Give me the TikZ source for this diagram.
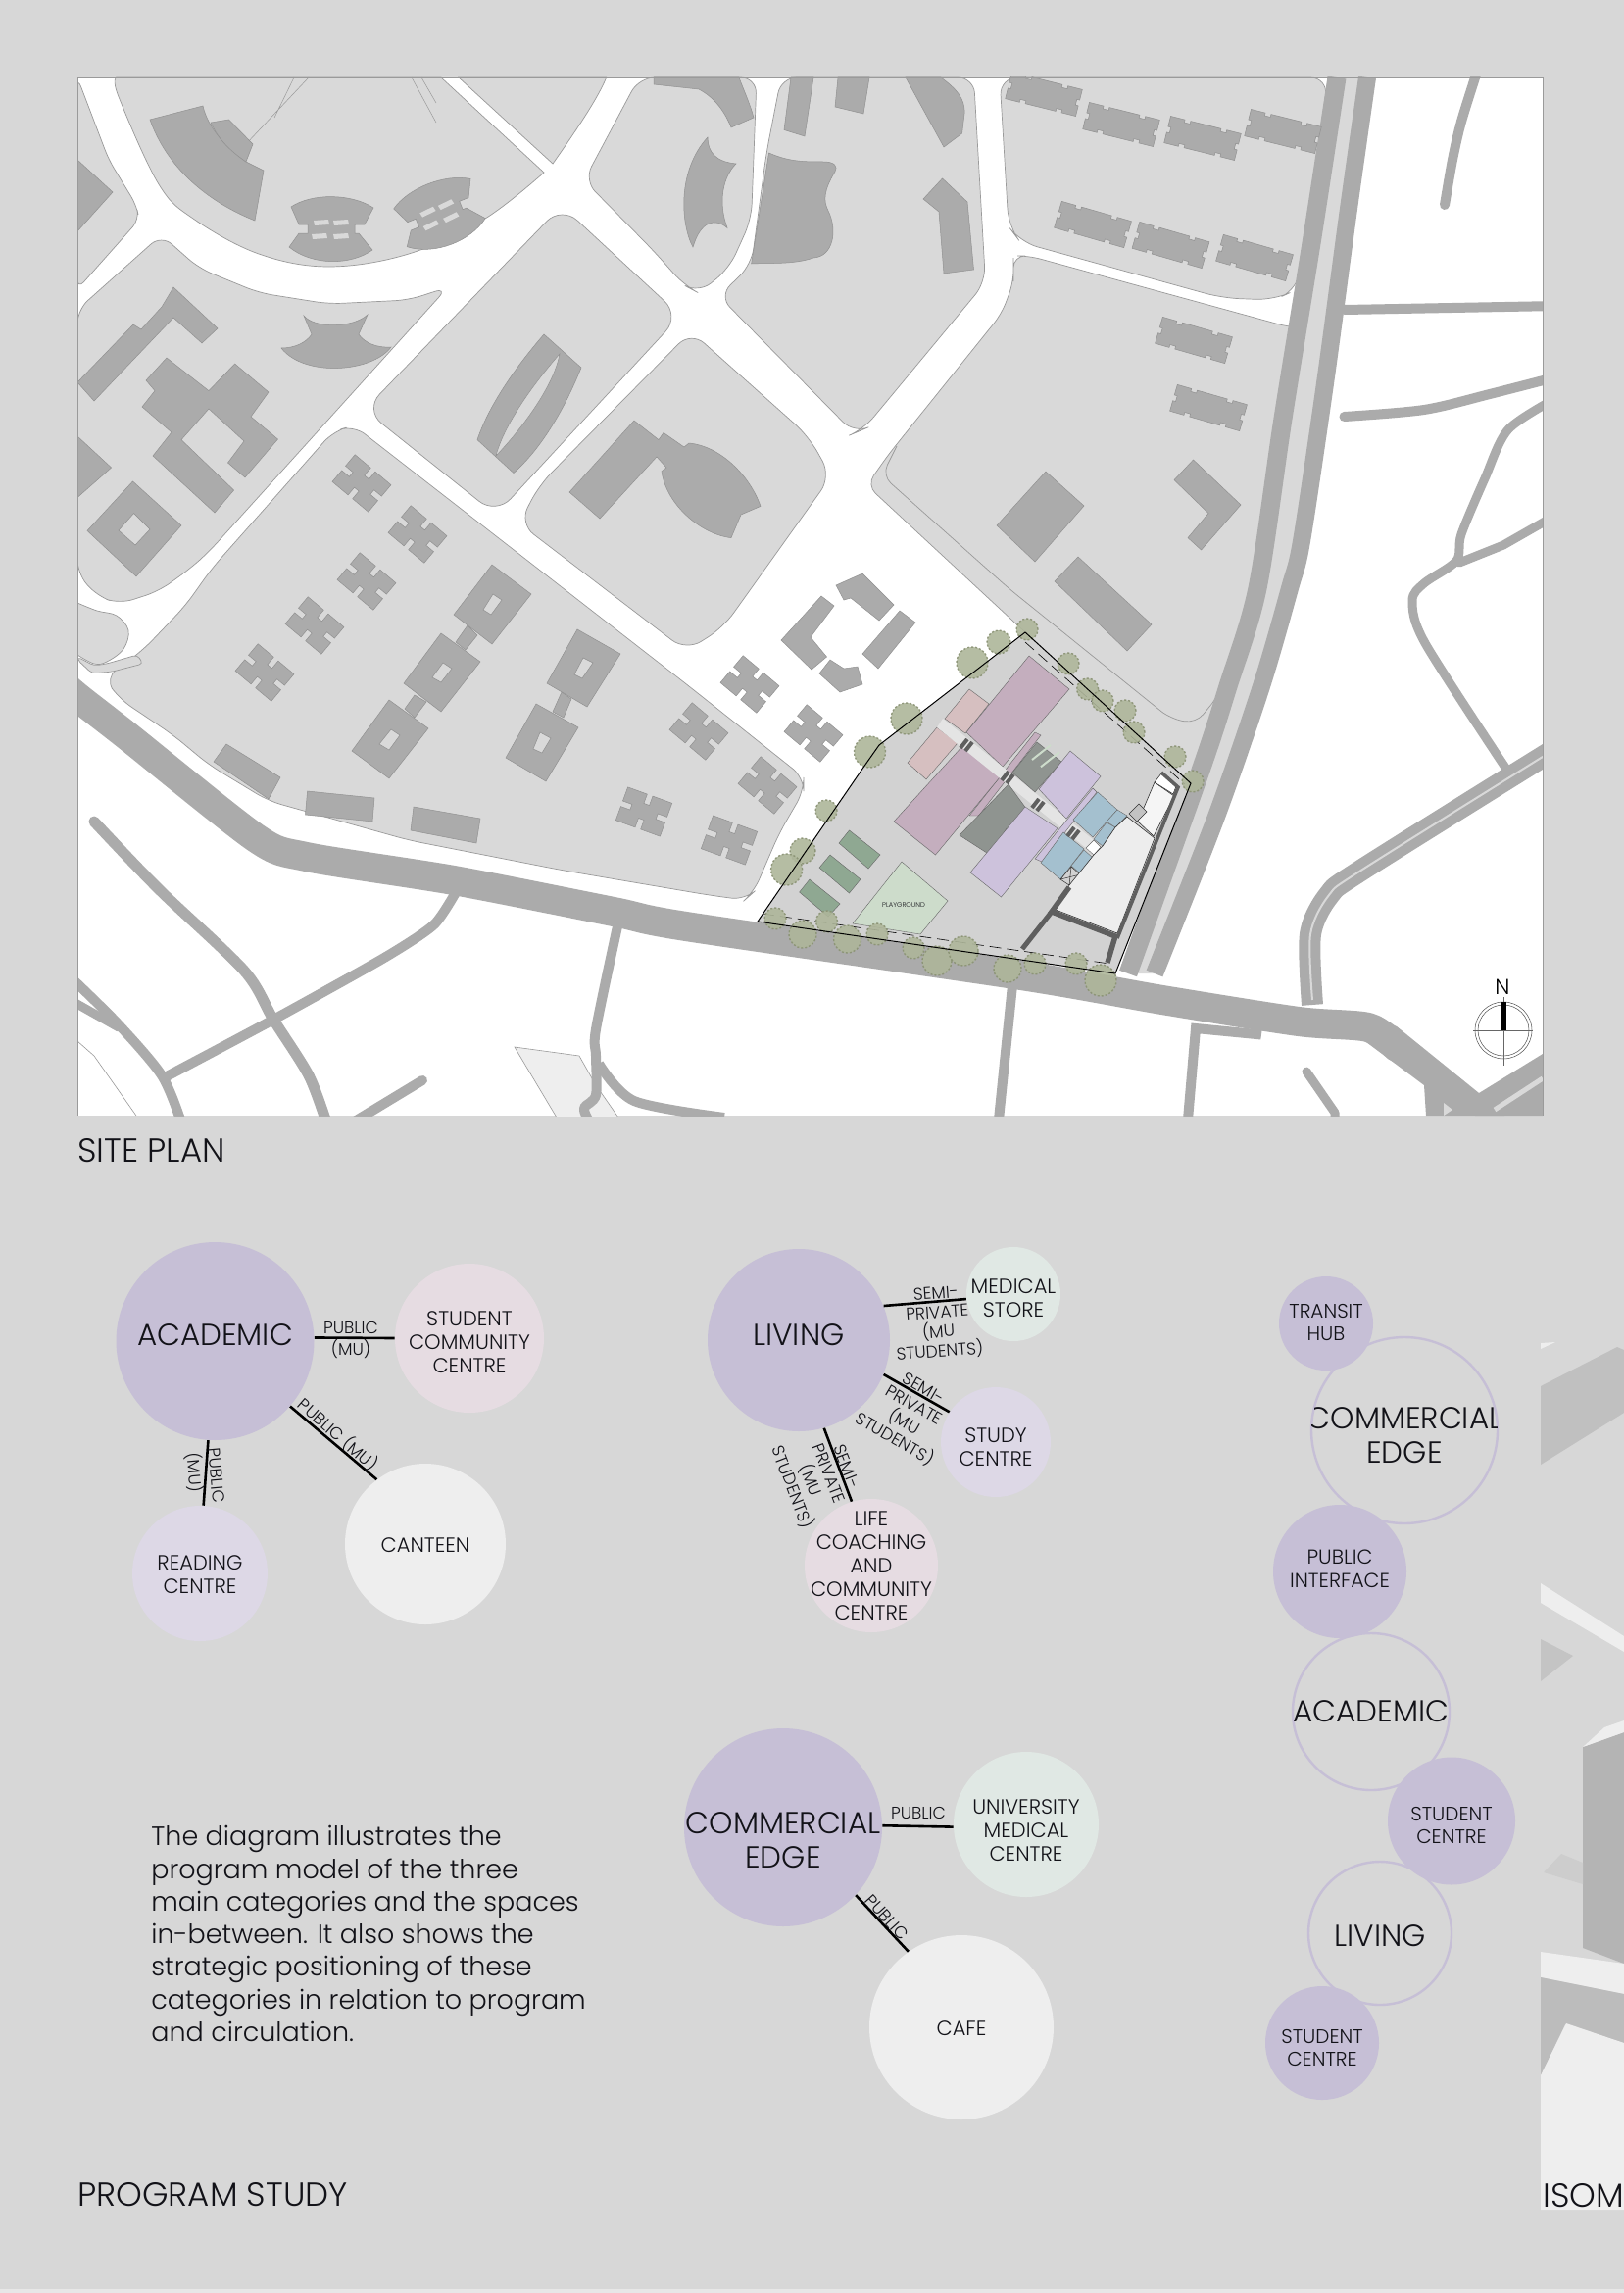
\documentclass[tikz,border=0pt]{standalone}
\usepackage{fontspec}
\setmainfont{Poppins Light}
\definecolor{pagebg}{HTML}{D7D7D7}
\definecolor{blk}{HTML}{D9D9D9}
\definecolor{bldc}{HTML}{ABABAB}
\definecolor{edgec}{HTML}{9A9A9A}
\definecolor{lav}{HTML}{C6BFD6}
\definecolor{lavl}{HTML}{DDD8E6}
\definecolor{pinkl}{HTML}{E6DCE2}
\definecolor{greenl}{HTML}{E0E8E4}
\definecolor{greyl}{HTML}{EEEEEE}
\definecolor{inkc}{HTML}{121218}
\definecolor{treec}{HTML}{AEB69A}
\definecolor{treed}{HTML}{8A9274}
\tikzset{
  blockp/.style={fill=blk,draw=edgec,line width=0.35pt},
  bld/.style={fill=bldc,draw=bldc!85!black,line width=0.25pt},
  road/.style={draw=bldc,line cap=round,line join=round},
  bub/.style={circle,inner sep=0pt,draw=none},
  ring/.style={circle,inner sep=0pt,draw=lav,line width=1.2pt},
  lab/.style={align=center,text=inkc,inner sep=0pt},
  link/.style={draw=black,line width=1.3pt},
  sz/.style={font=\fontsize{#1}{\dimexpr#1pt*115/100\relax}\selectfont}
}
\newcommand{\xbk}[3]{\filldraw[bld,shift={(#1,#2)},rotate=#3] (-24,-18)--(-3,-18)--(-3,-8)--(3,-8)--(3,-18)--(24,-18)--(24,-3)--(14,-3)--(14,3)--(24,3)--(24,18)--(3,18)--(3,8)--(-3,8)--(-3,18)--(-24,18)--(-24,3)--(-14,3)--(-14,-3)--(-24,-3)--cycle;}
\newcommand{\apt}[3]{\filldraw[bld,shift={(#1,#2)},rotate=#3] (-37,-14)--(-22,-14)--(-22,-11)--(-16,-11)--(-16,-14)--(16,-14)--(16,-11)--(22,-11)--(22,-14)--(37,-14)--(37,-3)--(34,-3)--(34,3)--(37,3)--(37,14)--(22,14)--(22,11)--(16,11)--(16,14)--(-16,14)--(-16,11)--(-22,11)--(-22,14)--(-37,14)--(-37,3)--(-34,3)--(-34,-3)--(-37,-3)--cycle;}
\newcommand{\hourg}[3]{\begin{scope}[shift={(#1,#2)},rotate=#3]
\filldraw[bld] (-41,-22) .. controls (-20,-36) and (20,-36) .. (43,-21) -- (34,-4) -- (24,-4) -- (24,5) -- (28,5) -- (42,22) .. controls (20,38) and (-20,38) .. (-43,19) -- (-33,5) -- (-24,5) -- (-24,-4) -- (-33,-4) -- cycle;
\foreach \hx/\hy in {-10/-6,10/-6,-12/8,10/8}{\fill[blk] (\hx-8,\hy-2)--(\hx+7,\hy-3)--(\hx+8,\hy+2)--(\hx-7,\hy+3)--cycle;}
\end{scope}}
\begin{document}
\begin{tikzpicture}[x=0.5pt,y=-0.5pt]
\useasboundingbox (0,0) rectangle (1657,2339);
\fill[pagebg] (0,0) rectangle (1657,2339);
\fill[pagebg!60!white] (0,2335) rectangle (1657,2339);
% ---------- SITE PLAN MAP
\begin{scope}
\clip (79,79) rectangle (1574,1138);
\fill[white] (79,79) rectangle (1574,1138);
% blocks
\filldraw[blockp] plot[smooth,tension=.6] coordinates {(118.7,79)(121,98.6)(162,188)(198,223.6)(264,259)(335.5,272)(417,259)(494,223.6)(555,176)} -- (450,79) -- cycle;
\filldraw[blockp] (468,79) -- (564,167) .. controls (590,130) and (610,100) .. (618.7,79) -- cycle;
\filldraw[blockp,rounded corners=5pt] (79,79) -- (111,163) -- (139,209) -- (142,224) -- (79,295) -- cycle;
\filldraw[blockp,rounded corners=7pt] (164.6,239.6) -- (79,316) -- (79,585) -- (99,608) -- (122,616) -- (162,603) -- (194,580) -- (213,563) -- (457,293) -- (417,306) -- (335.5,310) -- (264,298.6) -- (203,273.6) -- cycle;
\filldraw[blockp,rounded corners=11pt] (573,210) -- (694,322) -- (506,525) -- (372,418) -- cycle;
\filldraw[blockp,rounded corners=9pt] (705,338) -- (825,445) -- (848,486) -- (738,640) -- (700,664) -- (530,534) -- (550,495) -- cycle;
\filldraw[blockp,rounded corners=7pt] (361,434) -- (340,440) -- (216,580) -- (189,618) -- (146,663) -- (107,692) -- (122,713) -- (177,750) -- (213,780) -- (274,817) -- (417,857) -- (570,887) -- (723,913) -- (760,918) -- (769,910) -- (795,850) -- (820,807) -- (820,793) -- (703,700) -- cycle;
\filldraw[blockp] plot[smooth,tension=.6] coordinates {(79,615)(99,623)(119,628)(131,643)(126,662)(109,675)(96,677)(79,668)} -- cycle;
\filldraw[blockp,rounded corners=2pt] (79,673) -- (94,687) -- (115,685) -- (146,677) -- (140,668) -- (109,677) -- (96,679) -- (79,670) -- cycle;
\filldraw[blockp,rounded corners=8pt] (652,79) -- (596,184) -- (667,256) -- (698,291) -- (713,299) -- (744,273.6) -- (766.6,223.6) -- (772,79) -- cycle;
\filldraw[blockp,rounded corners=8pt] (797,79) -- (782,156) -- (766.6,270) -- (733.5,302) -- (871.5,442) -- (881,438) -- (1005.5,288) -- (993.5,79) -- cycle;
\filldraw[blockp,rounded corners=9pt] (1020,79) -- (1029,231) -- (1041,247) -- (1247,304) -- (1300,306) -- (1324,295) -- (1355,79) -- cycle;
\filldraw[blockp,rounded corners=6pt] (1034,275) -- (1034,261) -- (1050,261) -- (1316.5,334) -- (1340,334) -- (1282,600) -- (1215,800) -- (1046,645) -- (884.4,495) -- (907,463) -- (1022,320) -- (1034,288) -- cycle;
\draw[edgec,line width=.35pt,rounded corners=6pt] (915,455) -- (900,485) -- (1029,600) -- (1194,733) -- (1220,738) -- (1243,710) -- (1261,657);
% main double road
\fill[blk] plot[smooth,tension=.5] coordinates {(1364,79)(1338,248)(1309,427)(1283,600)(1253,700)(1226,783)(1151,993)} -- plot[smooth,tension=.5] coordinates {(1178,993)(1241,833)(1287,700)(1316,600)(1328,552)(1352,391)(1376,213)(1395,79)} -- cycle;
\draw[road,line width=9.5pt,line cap=butt] plot[smooth,tension=.5] coordinates {(1364,79)(1338,248)(1309,427)(1283,600)(1253,700)(1226,783)(1151,993)};
\draw[road,line width=9pt,line cap=butt] plot[smooth,tension=.5] coordinates {(1395,79)(1376,213)(1352,391)(1328,552)(1316,600)(1287,700)(1241,833)(1178,993)};
% main road
\draw[road,line width=15pt] plot[smooth,tension=.45] coordinates {(55,690)(79,711)(129,750)(261.5,855)(312.5,874)(463,898)(626,930)(700,945)(1042,995)(1186,1020)(1325,1042)(1396,1048)(1425,1068)};
\fill[bldc] (1390,1033) -- (1425,1047) -- (1509,1115) -- (1535,1138) -- (1455,1138) -- (1453,1107) -- (1394,1063) -- cycle;
\fill[blk] (1473,1125) -- (1482,1132) -- (1473,1138) -- cycle;
% side roads
\draw[road,line width=5pt] plot[smooth,tension=.5] coordinates {(1508,70)(1491,124)(1482,163)(1474,209)};
\draw[road,line width=5pt] (1372,316) -- (1590,312);
\draw[road,line width=5pt] plot[smooth,tension=.5] coordinates {(1371.5,425)(1453,418)(1520,402)(1590,384)};
\draw[road,line width=4.5pt] plot[smooth,tension=.5] coordinates {(1590,405)(1539,438)(1515,488)(1491,545)(1486,572)(1453,595)(1441,613)(1454,656)(1536,783)};
\draw[road,line width=4.5pt] (1590,524) -- (1534,556) -- (1489,574);
\draw[road,line width=11pt,line cap=butt] plot[smooth,tension=.5] coordinates {(1590,762)(1390,887)(1356,913)(1337,953)(1339,1025)};
\draw[blk,line width=1pt] plot[smooth,tension=.5] coordinates {(1590,762)(1390,887)(1356,913)(1337,953)(1339,1020)};
\fill[bldc] (1509,1115) -- (1574,1075) -- (1574,1138) -- (1505,1138) -- cycle;
\draw[blk,line width=2.5pt] (1525,1132) -- (1574,1100);
\draw[road,line width=5pt,line cap=butt] (1033,1005) -- (1019,1142);
\draw[road,line width=5pt,line join=miter] (1212,1142) -- (1220,1049) -- (1282,1055) -- (1284,1040);
\draw[road,line width=4.5pt] (1333,1093) -- (1362,1135) -- (1362,1145);
\draw[road,line width=5.5pt] plot[smooth,tension=.5] coordinates {(96,838)(162,907)(249,990)(279,1040)(315,1097)(333,1145)};
\draw[road,line width=5pt,line cap=butt] plot[smooth,tension=.4] coordinates {(468,905)(443,943)(392,977)(279,1040)(170,1098)};
\draw[road,line width=5pt] plot[smooth,tension=.5] coordinates {(70,995)(119,1043)(165,1097)(185,1145)};
\draw[road,line width=4.5pt] (75,1022) -- (121,1048);
\draw[road,line width=5pt] (431,1102) -- (360,1145);
\filldraw[fill=greyl,draw=edgec,line width=.3pt] (525,1068) -- (591,1077) -- (608,1107) -- (631,1140) -- (568,1140) -- cycle;
\draw[road,line width=5pt,line cap=butt] plot[smooth,tension=.5] coordinates {(630,945)(608,1050)(608,1077)(608,1117)(596,1130)(600,1142)};
\draw[road,line width=5pt,line cap=butt] plot[smooth,tension=.5] coordinates {(611,1085)(647,1123)(739,1140)};
\draw[edgec,line width=.3pt] (79,1062) -- (96,1077) -- (139,1138);
% thin lines at top
\draw[edgec,line width=.25pt] (280,120) -- (300,79) (250,148) -- (315,79) (420,79) -- (445,125) (430,79) -- (445,105);
% buildings
\filldraw[bld] (153,122) -- (207,108) .. controls (212,130) and (230,150) .. (251,165) -- (269,174) -- (260,225) .. controls (210,205) and (170,170) .. cycle;
\filldraw[bld] (215,125) -- (233.5,122) -- (258,147) -- (251,165) .. controls (232,152) and (222,140) .. cycle;
\hourg{338}{233}{0}
\hourg{448}{218}{22}
\filldraw[bld] (79,163) -- (115,196) -- (79,236) -- cycle;
\filldraw[bld] (79,445) -- (113.6,477) -- (79,507.5) -- cycle;
\filldraw[bld] (177,293) -- (222,335) -- (206,350) -- (177,324) -- (96,409) -- (79,390) -- (136,331) -- (144,336) -- (165,313) -- cycle;
\filldraw[bld] (170,365) -- (213,398.6) -- (239.6,371) -- (274,400) -- (256,425) -- (283.5,448) -- (250,487) -- (232.5,472) -- (249,450) -- (213,417) -- (185,448.6) -- (238.6,500) -- (219,523) -- (156,465) -- (175,441) -- (145,415) -- (158,398.6) -- (149,388) -- cycle;
\filldraw[bld,even odd rule] (135.5,491) -- (185,536) -- (139,588) -- (89,541.4) -- cycle (136.5,523.6) -- (153,540) -- (138,556) -- (121,541) -- cycle;
\filldraw[bld] (310,322) .. controls (320,335) and (360,335) .. (375,321) -- (366,341) .. controls (372,350) and (385,355) .. (399,354) .. controls (380,380) and (310,385) .. (287,355) .. controls (300,355) and (312,350) .. (318,341) -- cycle;
\filldraw[bld] (555,341) -- (593,375) .. controls (575,420) and (550,460) .. (524,482.5) -- (487,448.6) .. controls (500,410) and (530,370) .. cycle;
\filldraw[blk,draw=bldc!85!black,line width=.25pt] (571,361) .. controls (550,385) and (515,430) .. (506,465) .. controls (530,440) and (565,395) .. cycle;
\filldraw[bld] (647,429) -- (672,448.6) -- (677,441.4) -- (698,456) -- (703,452) .. controls (735,455) and (765,485) .. (776,516.4) -- (756,525) -- (746,548.6) .. controls (715,545) and (680,515) .. (675,480.7) -- (680,477) -- (670,466) -- (612,529) -- (581,502) -- cycle;
\filldraw[bld] (667,79) -- (667,86) -- (713,91) .. controls (730,100) and (740,115) .. (746,130) -- (769,120) .. controls (765,105) and (758,90) .. (754,79) -- cycle;
\filldraw[bld] (722,140) .. controls (722,155) and (730,165) .. (751,167) .. controls (738,180) and (732,205) .. (742,232.5) .. controls (730,222) and (715,225) .. (707,252) .. controls (695,230) and (690,175) .. cycle;
\filldraw[bld] (807,79) -- (800,132.5) -- (821,139) -- (830,79) -- cycle;
\filldraw[bld] (855,79) -- (852,109) -- (881,116) -- (887,79) -- cycle;
\filldraw[bld] (784.5,156) .. controls (805,165) and (820,165) .. (840,165) .. controls (852,165) and (855,170) .. (852,175) .. controls (840,195) and (840,205) .. (845,215) .. controls (855,235) and (850,262) .. (830,263) .. controls (810,270) and (785,268) .. (766.6,269) -- cycle;
\filldraw[bld] (924,79) -- (960,79) .. controls (975,90) and (985,100) .. (984,116) -- (981.6,136) -- (963,150) -- cycle;
\filldraw[bld] (961.5,182) -- (987,206) -- (993.5,275) -- (963,279) -- (958,216) -- (942,203) -- cycle;
\filldraw[bld] (1067,481) -- (1106,516) -- (1056,573) -- (1017,536) -- cycle;
\filldraw[bld] (1217.5,469) -- (1266,515) -- (1225.6,561) -- (1212,548.6) -- (1233,523.6) -- (1198,489.6) -- cycle;
\filldraw[bld] (1100,568) -- (1175,637) -- (1150,664) -- (1076,593) -- cycle;
\apt{1065}{96}{-14}\apt{1144}{127}{-14}\apt{1227}{141}{-14}\apt{1309}{134}{-14}
\apt{1115}{229}{-16}\apt{1194.5}{250}{-16}\apt{1280}{263}{-16}\apt{1218}{347}{-16}\apt{1233}{416}{-16}
\filldraw[bld] (838,608) -- (851,618) -- (827,650) -- (843.5,670) -- (828,683) -- (797,653) -- cycle;
\filldraw[bld] (853,597) -- (880,585) -- (912,617) -- (897,633) -- (868,610) -- (861,612) -- cycle;
\filldraw[bld] (918,623) -- (934,635) -- (896,682) -- (880,667) -- cycle;
\filldraw[bld] (847,673) -- (861,682) -- (875,680) -- (880,698) -- (857,706) -- (836,687) -- cycle;
\xbk{369}{493}{-40}\xbk{426}{545}{-40}\xbk{374}{593}{-40}\xbk{321}{638}{-40}\xbk{270}{686}{-40}
\xbk{713}{746}{-40}\xbk{783}{801}{-40}\xbk{765}{698}{-40}\xbk{830}{748}{-40}
\xbk{657}{828}{-20}\xbk{744}{857}{-20}
\filldraw[bld] (231,759) -- (286,793) -- (274,815) -- (218,777) -- cycle;
\filldraw[bld] (313.6,807) -- (382,814) -- (380,838) -- (311.5,831) -- cycle;
\filldraw[bld] (422,823) -- (490,835) -- (486,860) -- (419,847) -- cycle;
% chain buildings
\filldraw[bld] (477,638) -- (487,648) -- (475,663) -- (465,655) -- cycle;
\filldraw[bld] (423,709) -- (435,716) -- (423,732) -- (413,723) -- cycle;
\filldraw[bld] (573,706) -- (583,713) -- (575,732) -- (564,726) -- cycle;
\filldraw[bld,even odd rule] (502,576) -- (542,606) -- (502,657) -- (463,627) -- cycle (503,606) -- (512,612) -- (501,627) -- (493,622) -- cycle;
\filldraw[bld,even odd rule] (450,646) -- (490,675) -- (450,726) -- (412,697) -- cycle (452,676) -- (461,682) -- (450,696) -- (441,691) -- cycle;
\filldraw[bld,even odd rule] (397,714) -- (437,743) -- (397,794) -- (359,766) -- cycle (399,744) -- (408,750) -- (397,765) -- (387,759) -- cycle;
\filldraw[bld,even odd rule] (589,642) -- (633,667) -- (599,721) -- (558,697) -- cycle (595,671) -- (605,676) -- (594,692) -- (586,688) -- cycle;
\filldraw[bld,even odd rule] (547,718) -- (590,742) -- (557,797) -- (516,773) -- cycle (551,747) -- (562,753) -- (553,768) -- (544,764) -- cycle;
% SITE
\fill[blk!97!black] (1046,645) -- (1215,799) -- (1138,993) -- (773,940) -- (878,787) -- (897,760) -- cycle;
\definecolor{sitegr}{HTML}{CDDCCB}
\definecolor{court}{HTML}{8FA892}
\definecolor{mauve}{HTML}{C4AEBE}
\definecolor{salmon}{HTML}{D6BFC0}
\definecolor{lilac}{HTML}{CDC2DC}
\definecolor{blues}{HTML}{A4C0CF}
\definecolor{darkp}{HTML}{8F9490}
\definecolor{wallc}{HTML}{5F5F5F}
\tikzset{plotb/.style={draw=black!60,line width=.2pt}}
\filldraw[plotb,fill=sitegr] (920,879) -- (967,919) -- (939,953) -- (870,942) -- cycle;
\node[lab,font=\fontsize{3.4}{4}\selectfont] (pg) at (922,923) {PLAYGROUND};
\filldraw[plotb,fill=court] (866.5,847) -- (898,872) -- (886,886) -- (856,860) -- cycle;
\filldraw[plotb,fill=court] (847,872) -- (878,897) -- (866.5,911) -- (836,885) -- cycle;
\filldraw[plotb,fill=court] (826,897) -- (857,922) -- (845,935) -- (815.6,910) -- cycle;
\filldraw[plotb,fill=salmon] (989,703) -- (1009,718) -- (985,748) -- (964,733) -- cycle;
\filldraw[plotb,fill=salmon] (956,742) -- (977,758) -- (945,795) -- (926,778) -- cycle;
\filldraw[plotb,fill=mauve] (1056,747) -- (1062,750) -- (998.5,832) -- (989,832) -- cycle;
\filldraw[plotb,fill=mauve] (1050,669) -- (1091,703) -- (1023,782) -- (986,747) -- cycle;
\filldraw[plotb,fill=mauve] (983,760) -- (1020,793) -- (954.5,872) -- (912,838) -- cycle;
\fill[blk!70!white] (962,733) -- (1116,857) -- (1108,865) -- (956,742) -- cycle;
\filldraw[plotb,fill=darkp] (1058,757) -- (1083,777) -- (1056,808) -- (1033,788) -- cycle;
\foreach \sx in {0,9}{\draw[sitegr,line width=1pt] (1053+\sx,775+\sx*.8) -- (1072+\sx,760+\sx*.8);}
\filldraw[plotb,fill=darkp] (1029,800) -- (1056,837) -- (1041,854) -- (1027,845) -- (1010,872) -- (979,852) -- cycle;
\filldraw[plotb,fill=lilac] (1115,804) -- (1119,808) -- (1063,879) -- (1056,876) -- cycle;
\filldraw[plotb,fill=lilac] (1092,766) -- (1123,792) -- (1088,835) -- (1060,805) -- cycle;
\filldraw[plotb,fill=lilac] (1046,823) -- (1079,845) -- (1021.5,915) -- (990,890) -- cycle;
\filldraw[plotb,fill=blues] (1120,808) -- (1140,826) -- (1115,854) -- (1095,836) -- cycle;
\filldraw[plotb,fill=blues] (1140,826) -- (1150,832) -- (1138,844) -- (1129,838) -- cycle;
\filldraw[plotb,fill=blues] (1129,839) -- (1138,844) -- (1125,863) -- (1116,856) -- cycle;
\filldraw[plotb,fill=blues] (1085,849) -- (1106,866) -- (1082,897) -- (1062,880) -- cycle;
\filldraw[plotb,fill=blues] (1106,867) -- (1115,875) -- (1102,891) -- (1093,883) -- cycle;
\draw[black!80,line width=.25pt] (1093,884) -- (1102,892) -- (1091,903) -- (1082,897) -- cycle (1093,884) -- (1091,903) (1102,892) -- (1082,897);
\filldraw[plotb,fill=white] (1116,857) -- (1123,864) -- (1116,872) -- (1108,865) -- cycle;
\foreach \cx/\cy in {985/757,1027/790,1058/818,1094/847}{
 \draw[wallc,line width=2pt] (\cx-5,\cy+6) -- (\cx+2,\cy-3) (\cx,\cy+9) -- (\cx+7,\cy);}
\filldraw[draw=black!80,line width=.3pt,fill=white!93!black] (1150,833) -- (1178,855) -- (1140,952) -- (1077,928) -- (1091,903) -- (1116,872) -- (1125,863) -- (1138,844) -- cycle;
\filldraw[draw=black!80,line width=.3pt,fill=white!96!black] (1178,798) -- (1198,812) -- (1177,853) -- (1161,838) -- cycle;
\filldraw[draw=black!80,line width=.3pt,fill=white] (1178,798) -- (1185,789) -- (1200,802) -- (1197,810) -- cycle;
\filldraw[draw=black!80,line width=.3pt,fill=blk!90!black] (1162,820) -- (1170,828) -- (1160,838) -- (1152,830) -- cycle;
\draw[wallc,line width=1.8pt,line cap=butt] (1185,788) -- (1202,803) -- (1140,957);
\draw[wallc,line width=2.7pt,line join=miter] (1091,905) -- (1073,930) -- (1138,955) -- (1130,982);
\draw[wallc,line width=2.5pt] (1073,930) -- (1043,968);
\draw[black,line width=.3pt,dash pattern=on 6pt off 3pt] (778,932) -- (1132,983);
\draw[black,line width=.3pt,dash pattern=on 6pt off 3pt] (1046,655) -- (1209,800);
\foreach \tx/\ty/\tr in {1048/642/11,1019/655/12,992/676/16,925/733/16,887.5/767/16,843/827/11,819/868/13,802.6/887/16,791/937/11,819/953/14,843.5/940/11,864.6/958/14,895/953/11,932/967/11,956/980/15,983/970/15,1028/988/14,1056/983/11,1098/983/11,1123/1000/16,1090/677/11,1109.6/703/11,1125/715/11,1148/725/11,1157/747/11,1199/772/11,1217/797/11}{
 \filldraw[fill=treec,draw=treed,line width=.7pt,dash pattern=on 1pt off 1pt,opacity=.9] (\tx,\ty) circle[radius=\tr*0.5pt];}
\draw[black,line width=.5pt,line join=miter] (1046,645) -- (1215,799) -- (1138,993) -- (773,940) -- (878,787) -- (897,760) -- cycle;
% compass
\node[circle,draw=black!70,line width=.25pt,minimum size=29pt,inner sep=0pt] (cmpa) at (1534,1051) {};
\node[circle,draw=black!70,line width=.25pt,minimum size=26pt,inner sep=0pt] (cmpb) at (1534,1051) {};
\draw[black!60,line width=.25pt] (1503,1051) -- (1564,1051) (1534,1017) -- (1534,1087);
\fill[black] (1531,1022) rectangle (1537,1051);
\node[lab,text=black,font=\fontsize{11}{13}\selectfont] (north) at (1533,1007) {N};
\end{scope}
\draw[edgec,line width=.4pt] (79,1138) -- (79,79) -- (1574,79) -- (1574,1138);
\node[lab,anchor=west,sz=17] (siteplan) at (79,1174) {SITE PLAN};
\node[lab,anchor=west,sz=17] (progstudy) at (79,2239) {PROGRAM STUDY};
% ---------- ISO strip
\begin{scope}
\clip (1572,1360) rectangle (1657,2254);
\fill[bldc!75!white] (1572,1414) -- (1650,1374) -- (1657,1377) -- (1657,1441) -- (1572,1494) -- cycle;
\fill[greyl] (1572,1370) -- (1587,1369) -- (1572,1376) -- cycle;
\fill[greyl] (1572,1615) -- (1657,1669) -- (1657,1685) -- (1572,1635) -- cycle;
\fill[bldc!70!white] (1572,1672) -- (1605,1689) -- (1572,1715) -- cycle;
\fill[bldc!90!white] (1615,1782) -- (1657,1767) -- (1657,2003) -- (1615,1987) -- cycle;
\fill[greyl] (1615,1782) -- (1637,1762) -- (1657,1755) -- (1657,1767) -- cycle;
\fill[bldc!60!white] (1575,1910) -- (1593,1891) -- (1615,1900) -- (1615,1922) -- cycle;
\fill[greyl] (1572,1991) -- (1657,2003) -- (1657,2034) -- (1572,2017) -- cycle;
\fill[bldc!80!white] (1572,2017) -- (1657,2034) -- (1657,2084) -- (1597,2065) -- (1572,2117) -- cycle;
\fill[greyl] (1598,2064) -- (1657,2084) -- (1657,2254) -- (1572,2254) -- (1572,2117) -- cycle;
\end{scope}
\node[lab,anchor=west,sz=17] (isom) at (1574,2240) {ISOM};
% ---------- PROGRAM: ACADEMIC
\node[bub,fill=lav,minimum size=101pt] (acad) at (219.5,1368) {};
\node[bub,fill=pinkl,minimum size=76pt] (scc) at (479,1365) {};
\node[bub,fill=greyl,minimum size=82pt] (cant) at (434,1575) {};
\node[bub,fill=lavl,minimum size=69pt] (read) at (204,1605) {};
\node[lab,sz=15.5] at (219.5,1362) {ACADEMIC};
\node[lab,sz=10.5] at (479,1369) {STUDENT\\COMMUNITY\\CENTRE};
\node[lab,sz=10.5] at (434,1576) {CANTEEN};
\node[lab,sz=10.5] at (204,1606) {READING\\CENTRE};
\draw[link] (acad.2) -- (scc.180);
\draw[link] (acad.-41) -- (cant.127);
\draw[link] (acad.-94) -- (read.87);
\node[lab,sz=8.6] at (358,1354) {PUBLIC};
\node[lab,sz=8.6] at (358,1376) {(MU)};
\node[lab,sz=8.6,rotate=-41] at (345,1463) {PUBLIC (MU)};
\node[lab,sz=8.6,rotate=-85] at (221,1505) {PUBLIC};
\node[lab,sz=8.6,rotate=-85] at (199,1502) {(MU)};
% LIVING
\node[bub,fill=lav,minimum size=93pt] (liv) at (815,1367) {};
\node[bub,fill=greenl,minimum size=48pt] (med) at (1034,1320) {};
\node[bub,fill=lavl,minimum size=56pt] (study) at (1016,1471) {};
\node[bub,fill=pinkl,minimum size=68pt] (life) at (889,1597) {};
\node[lab,sz=15.5] at (815,1362) {LIVING};
\node[lab,sz=10.5] at (1034,1324) {MEDICAL\\STORE};
\node[lab,sz=10.5] at (1016,1476) {STUDY\\CENTRE};
\node[lab,sz=10.5] at (life) {LIFE\\COACHING\\AND\\COMMUNITY\\CENTRE};
\draw[link] (liv.22) -- (med.186);
\draw[link] (liv.-22) -- (study.147);
\draw[link] (liv.-74) -- (life.107);
\node[lab,sz=8.6,rotate=4] at (957,1350) {SEMI-\\PRIVATE\\(MU\\STUDENTS)};
\node[lab,sz=8.6,rotate=-30] at (927,1443) {SEMI-\\PRIVATE\\(MU\\STUDENTS)};
\node[lab,sz=8.6,rotate=-69] at (835,1507) {SEMI-\\PRIVATE\\(MU\\STUDENTS)};
% COMMERCIAL
\node[bub,fill=lav,minimum size=101pt] (comm) at (799,1864) {};
\node[bub,fill=greenl,minimum size=74pt] (uni) at (1047,1861) {};
\node[bub,fill=greyl,minimum size=94pt] (cafe) at (981,2068) {};
\node[lab,sz=15.5] at (799,1877) {COMMERCIAL\\EDGE};
\node[lab,sz=10.5] at (1047,1867) {UNIVERSITY\\MEDICAL\\CENTRE};
\node[lab,sz=10.5] at (981,2069) {CAFE};
\draw[link] (comm.1.7) -- (uni.182);
\draw[link] (comm.-43) -- (cafe.125.7);
\node[lab,sz=8.6] at (937,1849) {PUBLIC};
\node[lab,sz=8.6,rotate=-48] at (905,1956) {PUBLIC};
% paragraph
\node[lab,anchor=north west,align=left,font=\fontsize{13.5}{16.65}\selectfont] (para) at (154,1862) {The diagram illustrates the\\program model of the three\\main categories and the spaces\\in-between. It also shows the\\strategic positioning of these\\categories in relation to program\\and circulation.};
% RIGHT COLUMN
\node[bub,fill=lav,minimum size=48pt] (transit) at (1353,1350) {};
\node[ring,minimum size=95pt] (redge) at (1433,1459) {};
\node[bub,fill=lav,minimum size=68pt] (pubi) at (1367,1603) {};
\node[ring,minimum size=80pt] (racad) at (1399,1746) {};
\node[bub,fill=lav,minimum size=65pt] (sc1) at (1481,1857.5) {};
\node[ring,minimum size=73pt] (rliv) at (1408,1972) {};
\node[bub,fill=lav,minimum size=58pt] (sc2) at (1349,2084) {};
\node[lab,sz=10] at (1353,1349) {TRANSIT\\HUB};
\begin{scope}
\clip (1433,1459) circle[radius=47.5pt];
\node[lab,sz=15.5] at (1433,1464) {COMMERCIAL\\EDGE};
\end{scope}
\node[lab,sz=10.3] at (1367,1600) {PUBLIC\\INTERFACE};
\node[lab,sz=15.5] at (racad) {ACADEMIC};
\node[lab,sz=10] at (1481,1861.5) {STUDENT\\CENTRE};
\node[lab,sz=15.5] at (1408,1975) {LIVING};
\node[lab,sz=10] at (1349,2089) {STUDENT\\CENTRE};
\end{tikzpicture}
\end{document}
